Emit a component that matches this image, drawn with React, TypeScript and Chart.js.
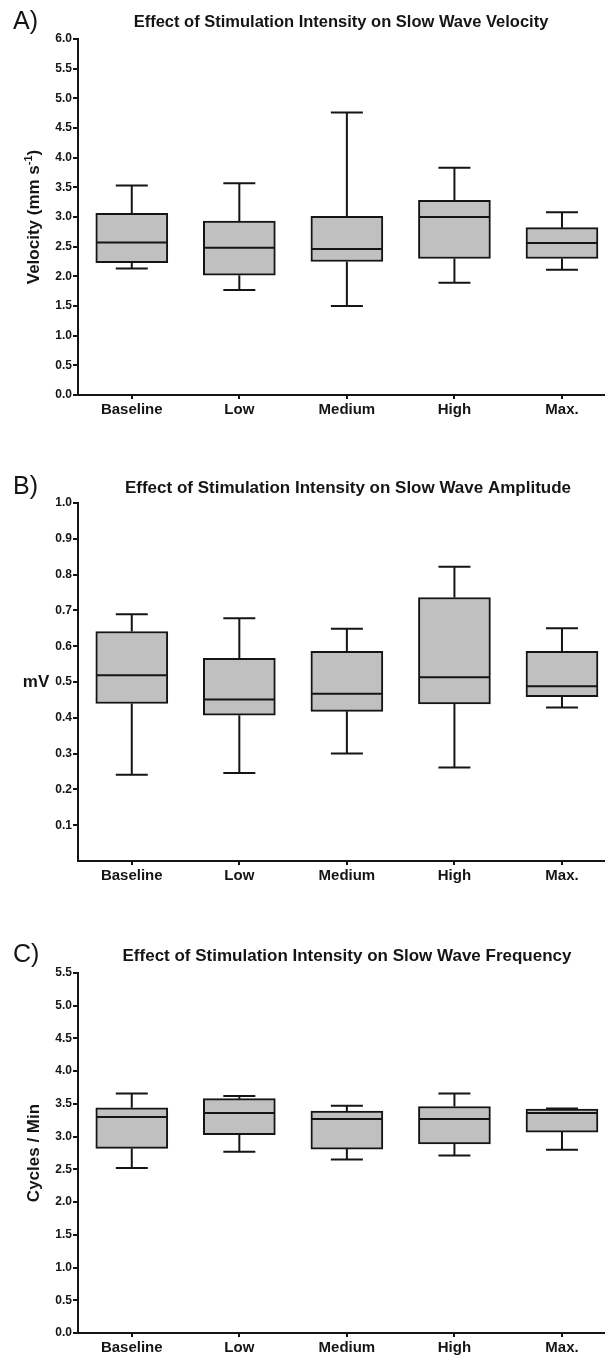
import React, { useEffect, useRef } from "react";
import { Chart, registerables } from "chart.js";

Chart.register(...registerables);

const FONT = "'Liberation Sans', Arial, Helvetica, sans-serif";
const INK = "#151515";

const categories = ["Baseline", "Low", "Medium", "High", "Max."];

// A) Velocity (mm s-1)
const velocityMin = [2.13, 1.77, 1.5, 1.89, 2.11];
const velocityQ1 = [2.23, 2.02, 2.25, 2.3, 2.3];
const velocityMedian = [2.57, 2.48, 2.46, 3.0, 2.56];
const velocityQ3 = [3.06, 2.93, 3.01, 3.28, 2.82];
const velocityMax = [3.53, 3.57, 4.76, 3.83, 3.08];
const velocityTicks = [0, 0.5, 1, 1.5, 2, 2.5, 3, 3.5, 4, 4.5, 5, 5.5, 6];

// B) Amplitude (mV)
const amplitudeMin = [0.241, 0.246, 0.3, 0.261, 0.429];
const amplitudeQ1 = [0.44, 0.407, 0.418, 0.439, 0.459];
const amplitudeMedian = [0.519, 0.451, 0.467, 0.513, 0.488];
const amplitudeQ3 = [0.641, 0.566, 0.586, 0.736, 0.586];
const amplitudeMax = [0.689, 0.678, 0.649, 0.822, 0.65];
const amplitudeTicks = [0.1, 0.2, 0.3, 0.4, 0.5, 0.6, 0.7, 0.8, 0.9, 1.0];

// C) Frequency (cycles / min)
const frequencyMin = [2.52, 2.77, 2.65, 2.71, 2.8];
const frequencyQ1 = [2.82, 3.03, 2.81, 2.89, 3.07];
const frequencyMedian = [3.3, 3.36, 3.27, 3.27, 3.36];
const frequencyQ3 = [3.44, 3.58, 3.39, 3.46, 3.42];
const frequencyMax = [3.66, 3.62, 3.47, 3.66, 3.43];
const frequencyTicks = [0, 0.5, 1, 1.5, 2, 2.5, 3, 3.5, 4, 4.5, 5, 5.5];

type PanelCfg = {
  key: string;
  letter: string;
  title: string;
  yTitle: string;
  yTitleSup?: string;
  yTitleEnd?: string;
  yTitleRotated: boolean;
  yMax: number;
  ticks: number[];
  lo: number[];
  q1: number[];
  med: number[];
  q3: number[];
  hi: number[];
  height: number;
  top: number;
  bottom: number;
  letterY: number;
  titleX: number;
  titleY: number;
  titleSize: number;
};

const panels: PanelCfg[] = [
  {
    key: "A",
    letter: "A)",
    title: "Effect of Stimulation Intensity on Slow Wave Velocity",
    yTitle: "Velocity (mm s",
    yTitleSup: "-1",
    yTitleEnd: ")",
    yTitleRotated: true,
    yMax: 6,
    ticks: velocityTicks,
    lo: velocityMin,
    q1: velocityQ1,
    med: velocityMedian,
    q3: velocityQ3,
    hi: velocityMax,
    height: 440,
    top: 39,
    bottom: 395,
    letterY: 22,
    titleX: 341,
    titleY: 22,
    titleSize: 16.5,
  },
  {
    key: "B",
    letter: "B)",
    title: "Effect of Stimulation Intensity on Slow Wave Amplitude",
    yTitle: "mV",
    yTitleRotated: false,
    yMax: 1,
    ticks: amplitudeTicks,
    lo: amplitudeMin,
    q1: amplitudeQ1,
    med: amplitudeMedian,
    q3: amplitudeQ3,
    hi: amplitudeMax,
    height: 460,
    top: 63,
    bottom: 421,
    letterY: 47,
    titleX: 348,
    titleY: 48,
    titleSize: 17,
  },
  {
    key: "C",
    letter: "C)",
    title: "Effect of Stimulation Intensity on Slow Wave Frequency",
    yTitle: "Cycles / Min",
    yTitleRotated: true,
    yMax: 5.5,
    ticks: frequencyTicks,
    lo: frequencyMin,
    q1: frequencyQ1,
    med: frequencyMedian,
    q3: frequencyQ3,
    hi: frequencyMax,
    height: 457,
    top: 73,
    bottom: 433,
    letterY: 55,
    titleX: 347,
    titleY: 56,
    titleSize: 17,
  },
];

const AXIS_LEFT = 78;
const CAP_HALF = 16;

function makeConfig(p: PanelCfg): any {
  const whiskerPlugin = {
    id: "whiskers" + p.key,
    afterDatasetsDraw(chart: any) {
      const ctx = chart.ctx;
      const xs = chart.scales.x;
      const ys = chart.scales.y;
      const meta = chart.getDatasetMeta(0);
      ctx.save();
      ctx.strokeStyle = INK;
      ctx.lineWidth = 2;
      ctx.lineCap = "butt";
      categories.forEach((_, i) => {
        const x = xs.getPixelForValue(i + 1);
        const half = (meta.data[i]?.width ?? 72) / 2;
        const yLo = ys.getPixelForValue(p.lo[i]);
        const yQ1 = ys.getPixelForValue(p.q1[i]);
        const yMed = ys.getPixelForValue(p.med[i]);
        const yQ3 = ys.getPixelForValue(p.q3[i]);
        const yHi = ys.getPixelForValue(p.hi[i]);
        ctx.beginPath();
        ctx.moveTo(x, yQ3);
        ctx.lineTo(x, yHi);
        ctx.moveTo(x - CAP_HALF, yHi);
        ctx.lineTo(x + CAP_HALF, yHi);
        ctx.moveTo(x, yQ1);
        ctx.lineTo(x, yLo);
        ctx.moveTo(x - CAP_HALF, yLo);
        ctx.lineTo(x + CAP_HALF, yLo);
        ctx.moveTo(x - half + 1, yMed);
        ctx.lineTo(x + half - 1, yMed);
        ctx.stroke();
      });
      ctx.restore();
    },
  };

  const textPlugin = {
    id: "text" + p.key,
    afterDraw(chart: any) {
      const ctx = chart.ctx;
      const area = chart.chartArea;
      ctx.save();
      ctx.fillStyle = INK;
      ctx.font = `25px ${FONT}`;
      ctx.textAlign = "left";
      ctx.textBaseline = "middle";
      ctx.fillText(p.letter, 13, p.letterY);

      ctx.font = `bold ${p.titleSize}px ${FONT}`;
      ctx.textAlign = "center";
      ctx.fillText(p.title, p.titleX, p.titleY);

      const midY = (area.top + area.bottom) / 2;
      if (p.yTitleRotated) {
        ctx.translate(39, midY);
        ctx.rotate(-Math.PI / 2);
        ctx.textAlign = "left";
        ctx.textBaseline = "alphabetic";
        const mainFont = `bold 17px ${FONT}`;
        const supFont = `bold 11px ${FONT}`;
        ctx.font = mainFont;
        const w1 = ctx.measureText(p.yTitle).width;
        const w3 = p.yTitleEnd ? ctx.measureText(p.yTitleEnd).width : 0;
        ctx.font = supFont;
        const w2 = p.yTitleSup ? ctx.measureText(p.yTitleSup).width : 0;
        let x0 = -(w1 + w2 + w3) / 2;
        ctx.font = mainFont;
        ctx.fillText(p.yTitle, x0, 0);
        x0 += w1;
        if (p.yTitleSup) {
          ctx.font = supFont;
          ctx.fillText(p.yTitleSup, x0, -7);
          x0 += w2;
        }
        if (p.yTitleEnd) {
          ctx.font = mainFont;
          ctx.fillText(p.yTitleEnd, x0, 0);
        }
      } else {
        ctx.font = `bold 17px ${FONT}`;
        ctx.textAlign = "center";
        ctx.textBaseline = "middle";
        ctx.fillText(p.yTitle, 36, midY);
      }
      ctx.restore();
    },
  };

  return {
    type: "bar",
    data: {
      datasets: [
        {
          label: p.key,
          data: categories.map((_, i) => ({ x: i + 1, y: [p.q1[i], p.q3[i]] })),
          backgroundColor: "#c0c0c0",
          borderColor: INK,
          borderWidth: 2,
          borderSkipped: false,
          barThickness: 72,
        },
      ],
    },
    options: {
      responsive: false,
      animation: false,
      devicePixelRatio: 1,
      layout: { padding: { top: p.top, left: 0, right: 0, bottom: 0 } },
      plugins: {
        legend: { display: false },
        tooltip: { enabled: false },
        title: { display: false },
      },
      scales: {
        x: {
          type: "linear",
          offset: false,
          min: 0.5,
          max: 5.4,
          afterBuildTicks: (s: any) => {
            s.ticks = categories.map((_, i) => ({ value: i + 1 }));
          },
          afterFit: (s: any) => {
            s.height = p.height - p.bottom;
          },
          ticks: {
            callback: (_v: any, i: number) => categories[i],
            font: { family: FONT, size: 15, weight: "bold" },
            color: INK,
            padding: 2,
            maxRotation: 0,
            autoSkip: false,
          },
          grid: {
            offset: false,
            drawOnChartArea: false,
            drawTicks: true,
            tickLength: 4,
            color: INK,
            lineWidth: 2,
          },
          border: { display: true, color: INK, width: 2 },
        },
        y: {
          type: "linear",
          min: 0,
          max: p.yMax,
          afterBuildTicks: (s: any) => {
            s.ticks = p.ticks.map((v) => ({ value: v }));
          },
          afterFit: (s: any) => {
            s.width = AXIS_LEFT;
          },
          ticks: {
            callback: (v: any) => Number(v).toFixed(1),
            font: { family: FONT, size: 12, weight: "bold" },
            color: INK,
            padding: 1,
            autoSkip: false,
          },
          grid: {
            drawOnChartArea: false,
            drawTicks: true,
            tickLength: 5,
            color: INK,
            lineWidth: 2,
          },
          border: { display: true, color: INK, width: 2 },
        },
      },
    },
    plugins: [whiskerPlugin, textPlugin],
  };
}

function Panel({ cfg }: { cfg: PanelCfg }) {
  const ref = useRef<HTMLCanvasElement | null>(null);
  useEffect(() => {
    if (!ref.current) return;
    const chart = new Chart(ref.current, makeConfig(cfg));
    return () => chart.destroy();
  }, [cfg]);
  return (
    <canvas
      ref={ref}
      width={605}
      height={cfg.height}
      style={{ display: "block", width: 605, height: cfg.height }}
    />
  );
}

export default function App() {
  return (
    <div
      style={{
        position: "absolute",
        left: 0,
        top: 0,
        width: 605,
        height: 1357,
        background: "#fff",
        overflow: "hidden",
      }}
    >
      {panels.map((p) => (
        <Panel key={p.key} cfg={p} />
      ))}
    </div>
  );
}
